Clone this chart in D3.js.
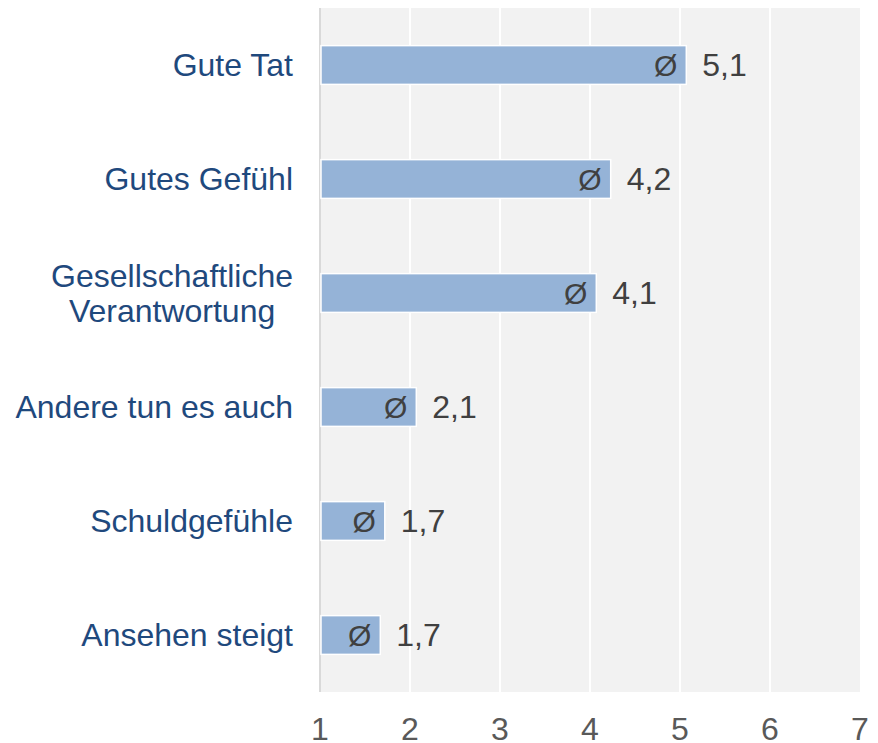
<!DOCTYPE html>
<html>
<head>
<meta charset="utf-8">
<script src="https://cdn.jsdelivr.net/npm/d3@7"></script>
<style>
  body { margin: 0; background: #fff; }
  text { font-family: "Liberation Sans", Arial, sans-serif; }
</style>
</head>
<body>
<div id="chart"></div>
<script>
var w = 878;
var h = 743;

var categories = ["Gute Tat", "Gutes Gefühl", "Gesellschaftliche Verantwortung",
                  "Andere tun es auch", "Schuldgefühle", "Ansehen steigt"];
var values = [5.07, 4.23, 4.07, 2.07, 1.72, 1.67];
var valueLabels = ["5,1", "4,2", "4,1", "2,1", "1,7", "1,7"];
var tickValues = [1, 2, 3, 4, 5, 6, 7];

// category labels that break onto two lines
var labelLines = {"Gesellschaftliche Verantwortung": ["Gesellschaftliche", "Verantwortung"]};

var plotLeft = 320, plotRight = 860, plotTop = 8, plotBottom = 692;

var xScale = d3.scaleLinear()
        .domain([1, 7])
        .range([plotLeft, plotRight]);

var yScale = d3.scaleBand()
        .domain(categories)
        .range([plotTop, plotBottom])
        .paddingInner(0.66)
        .paddingOuter(0.33);

var svg = d3.select("#chart")
      .append("svg")
      .attr("width", w)
      .attr("height", h);

// plot background
svg.append("rect")
   .attr("x", plotLeft)
   .attr("y", plotTop)
   .attr("width", plotRight - plotLeft)
   .attr("height", plotBottom - plotTop)
   .attr("fill", "#f2f2f2");

// gridlines
svg.selectAll("line.grid")
   .data(tickValues.slice(1, -1))
   .enter()
   .append("line")
   .attr("class", "grid")
   .attr("x1", function(d) { return xScale(d); })
   .attr("x2", function(d) { return xScale(d); })
   .attr("y1", plotTop)
   .attr("y2", plotBottom)
   .attr("stroke", "#ffffff")
   .attr("stroke-width", 2);

// left axis line
svg.append("line")
   .attr("x1", plotLeft)
   .attr("x2", plotLeft)
   .attr("y1", plotTop)
   .attr("y2", plotBottom)
   .attr("stroke", "#d9d9d9")
   .attr("stroke-width", 2);

// bars
svg.selectAll("rect.bar")
   .data(values)
   .enter()
   .append("rect")
   .attr("class", "bar")
   .attr("x", xScale(1) + 1)
   .attr("y", function(d, i) { return yScale(categories[i]); })
   .attr("width", function(d) { return xScale(d) - xScale(1) - 1; })
   .attr("height", yScale.bandwidth())
   .attr("fill", "#95b3d7")
   .attr("stroke", "#ffffff")
   .attr("stroke-width", 1.5);

// Ø inside the bar end
svg.selectAll("text.avg")
   .data(values)
   .enter()
   .append("text")
   .attr("class", "avg")
   .attr("x", function(d) { return xScale(d) - 9; })
   .attr("y", function(d, i) { return yScale(categories[i]) + yScale.bandwidth() / 2; })
   .attr("dy", "0.35em")
   .attr("text-anchor", "end")
   .attr("font-size", 30)
   .attr("fill", "#404040")
   .text("Ø");

// values
svg.selectAll("text.val")
   .data(values)
   .enter()
   .append("text")
   .attr("class", "val")
   .attr("x", function(d) { return xScale(d) + 16; })
   .attr("y", function(d, i) { return yScale(categories[i]) + yScale.bandwidth() / 2; })
   .attr("dy", "0.35em")
   .attr("font-size", 32)
   .attr("fill", "#404040")
   .text(function(d, i) { return valueLabels[i]; });

// category labels
categories.forEach(function(c) {
  var lines = labelLines[c] || [c];
  var cy = yScale(c) + yScale.bandwidth() / 2;
  var lineH = 35;
  var g = svg.append("g");
  var texts = lines.map(function(l, j) {
    return g.append("text")
      .attr("y", cy + (j - (lines.length - 1) / 2) * lineH)
      .attr("dy", "0.35em")
      .attr("font-size", 32)
      .attr("fill", "#1f497d")
      .attr("text-anchor", "middle")
      .text(l);
  });
  var widths = texts.map(function(t) { return t.node().getComputedTextLength(); });
  var maxW = d3.max(widths);
  var centerX = 293 - maxW / 2;
  texts.forEach(function(t) { t.attr("x", centerX); });
});

// x axis tick labels
svg.selectAll("text.tick")
   .data(tickValues)
   .enter()
   .append("text")
   .attr("class", "tick")
   .attr("x", function(d) { return xScale(d); })
   .attr("y", 740)
   .attr("text-anchor", "middle")
   .attr("font-size", 32)
   .attr("fill", "#595959")
   .text(function(d) { return d; });
</script>
</body>
</html>
